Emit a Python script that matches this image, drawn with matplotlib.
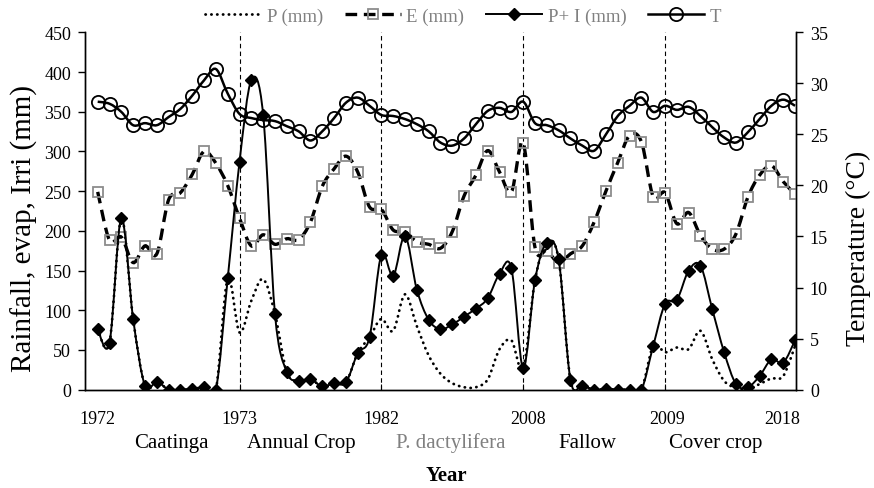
import numpy as np
import matplotlib
matplotlib.use("Agg")
import matplotlib.pyplot as plt
from matplotlib.path import Path
from matplotlib.patches import PathPatch
from matplotlib.lines import Line2D
import matplotlib.transforms as mtransforms

plt.rcParams['font.family'] = ['Liberation Serif', 'DejaVu Serif']

# ---------------- data (monthly, 60 points) ----------------
months = list(range(60))

P = [76, 59, 216, 89, 5, 10, 0, 0, 0.5, 3, 0, 140,
     72, 112, 139, 95, 22, 11, 13, 4, 8, 9, 46, 66,
     89, 74, 120, 80, 43, 20, 8, 3, 3, 13, 51, 62,
     27, 138, 185, 164, 12, 5, 0, 0.5, 0, 0, 0, 55,
     47, 53, 51, 74, 38, 11, 2, 0.5, 7, 14, 17, 55]

E = [249, 188, 192, 160, 181, 171, 239, 248, 271, 300, 285, 257,
     216, 181, 195, 183, 190, 189, 211, 256, 278, 294, 274, 230,
     227, 201, 199, 186, 183, 178, 199, 244, 270, 301, 274, 249,
     311, 179, 175, 160, 171, 181, 211, 250, 286, 320, 312, 243,
     248, 209, 223, 194, 177, 177, 196, 242, 270, 282, 262, 246]

PI = [76, 59, 216, 89, 5, 10, 0, 0, 0.5, 3, 0, 140,
      287, 390, 346, 95, 22, 11, 13, 4, 8, 9, 46, 66,
      170, 143, 194, 126, 88, 76, 82, 92, 102, 115, 146, 153,
      27, 138, 185, 164, 12, 5, 0, 0.5, 0, 0, 0, 55,
      108, 113, 150, 156, 101, 47, 7, 3, 17, 38, 34, 62]

T = [28.2, 28.0, 27.2, 25.9, 26.1, 25.9, 26.7, 27.5, 28.8, 30.3, 31.4, 29.0,
     27.0, 26.6, 26.4, 26.3, 25.8, 25.3, 24.4, 25.3, 26.6, 28.1, 28.6, 27.8,
     26.9, 26.8, 26.5, 26.0, 25.3, 24.2, 23.9, 24.6, 26.0, 27.3, 27.6, 27.2,
     28.2, 26.1, 25.9, 25.4, 24.6, 23.9, 23.4, 25.0, 26.8, 27.8, 28.6, 27.2,
     27.8, 27.4, 27.7, 26.8, 25.7, 24.7, 24.2, 25.2, 26.5, 27.8, 28.4, 27.8]

year_labels = ['1972', '1973', '1982', '2008', '2009', '2018']
year_pos = [0, 12, 24, 36.4, 48.2, 57.9]
period_labels = ['Caatinga', 'Annual Crop', 'P. dactylifera', 'Fallow', 'Cover crop']
period_pos = [6.2, 17.2, 29.9, 41.4, 52.3]
period_colors = ['black', 'black', '#808080', 'black', 'black']
boundaries = [12, 24, 36, 48]


def smooth_path(x, y):
    x = np.asarray(x, float)
    y = np.asarray(y, float)
    n = len(x)
    verts = [(x[0], y[0])]
    codes = [Path.MOVETO]
    for i in range(n - 1):
        i0 = max(i - 1, 0)
        i3 = min(i + 2, n - 1)
        c1 = (x[i] + (x[i + 1] - x[i0]) / 6.0, y[i] + (y[i + 1] - y[i0]) / 6.0)
        c2 = (x[i + 1] - (x[i3] - x[i]) / 6.0, y[i + 1] - (y[i3] - y[i]) / 6.0)
        verts += [c1, c2, (x[i + 1], y[i + 1])]
        codes += [Path.CURVE4] * 3
    return Path(verts, codes)


W, H = 874, 489
fig = plt.figure(figsize=(W / 100, H / 100), dpi=100)
ax_l, ax_r, ax_t, ax_b = 85, 796, 33.3, 390.6
ax = fig.add_axes([ax_l / W, 1 - ax_b / H, (ax_r - ax_l) / W, (ax_b - ax_t) / H])
ax2 = ax.twinx()

ax.set_xlim(-1.074, 59.08)
ax.set_ylim(0, 450)
ax2.set_ylim(0, 35)

# vertical separators
for b in boundaries:
    ax.axvline(b, color='black', lw=0.8, ls=(0, (4, 3)), zorder=1)

# P (dotted)
ax.add_patch(PathPatch(smooth_path(months, P), fill=False, edgecolor='black',
                       lw=2.0, ls=(0, (0.1, 2.0)), capstyle='round', zorder=2))
# E (dashed, grey squares)
ax.add_patch(PathPatch(smooth_path(months, E), fill=False, edgecolor='black',
                       lw=2.4, ls=(0, (3.5, 2.0)), zorder=3))
ax.plot(months, E, ls='none', marker='s', ms=7, mfc='none', mec='#8c8c8c',
        mew=1.3, zorder=4)
# P + I (solid, diamonds)
ax.add_patch(PathPatch(smooth_path(months, PI), fill=False, edgecolor='black',
                       lw=1.4, zorder=5))
ax.plot(months, PI, ls='none', marker='D', ms=6, mfc='black', mec='black',
        zorder=6)
# T (solid, circles) on secondary axis
ax2.add_patch(PathPatch(smooth_path(months, T), fill=False, edgecolor='black',
                        lw=1.8, zorder=5))
ax2.plot(months, T, ls='none', marker='o', ms=9.5, mfc='none', mec='black',
         mew=1.3, zorder=6)

# axes styling
for a in (ax, ax2):
    a.spines['top'].set_visible(False)
    for s in a.spines.values():
        s.set_linewidth(1.0)
        s.set_color('black')

ax.set_yticks(np.arange(0, 451, 50))
ax2.set_yticks(np.arange(0, 36, 5))
ax.tick_params(axis='y', direction='out', length=5, width=1, labelsize=13, pad=5)
ax2.tick_params(axis='y', direction='out', length=5, width=1, labelsize=13, pad=5)
ax.set_xticks(boundaries)
ax.tick_params(axis='x', direction='in', length=4, width=0.8, labelbottom=False)

# year and period labels under the axis
tr = mtransforms.blended_transform_factory(ax.transData, ax.transAxes)
for lab, pos in zip(year_labels, year_pos):
    ax.text(pos, -0.08, lab, transform=tr, ha='center', va='center', fontsize=13)
for lab, pos, c in zip(period_labels, period_pos, period_colors):
    ax.text(pos, -0.147, lab, transform=tr, ha='center', va='center',
            fontsize=15, color=c)

fig.text(446.5 / W, 1 - 476 / H, 'Year', ha='center', va='center',
         fontsize=15, fontweight='bold')
fig.text(24 / W, 1 - 229 / H, 'Rainfall, evap, Irri (mm)', rotation=90,
         ha='center', va='center', fontsize=21)
fig.text(858 / W, 1 - 248 / H, 'Temperature (\u00b0C)', rotation=90,
         ha='center', va='center', fontsize=20)

# legend
handles = [
    Line2D([], [], color='black', lw=2.0, ls=(0, (0.1, 2.0)), dash_capstyle='round'),
    Line2D([], [], color='black', lw=2.4, ls=(0, (3.5, 2.0)), marker='s', ms=7,
           mfc='none', mec='#8c8c8c', mew=1.3),
    Line2D([], [], color='black', lw=1.4, marker='D', ms=6, mfc='black'),
    Line2D([], [], color='black', lw=1.8, marker='o', ms=9.5, mfc='none', mew=1.3),
]
labels = ['P (mm)', 'E (mm)', 'P+ I (mm)', 'T']
leg = ax2.legend(handles, labels, loc='center', ncol=4, frameon=False,
                 bbox_to_anchor=(0.532, 1.0456), fontsize=13.5, handlelength=3.0,
                 handletextpad=0.3, columnspacing=1.15, borderpad=0, borderaxespad=0)
for t in leg.get_texts():
    t.set_color('#808080')

fig.savefig('out.png', dpi=100)
